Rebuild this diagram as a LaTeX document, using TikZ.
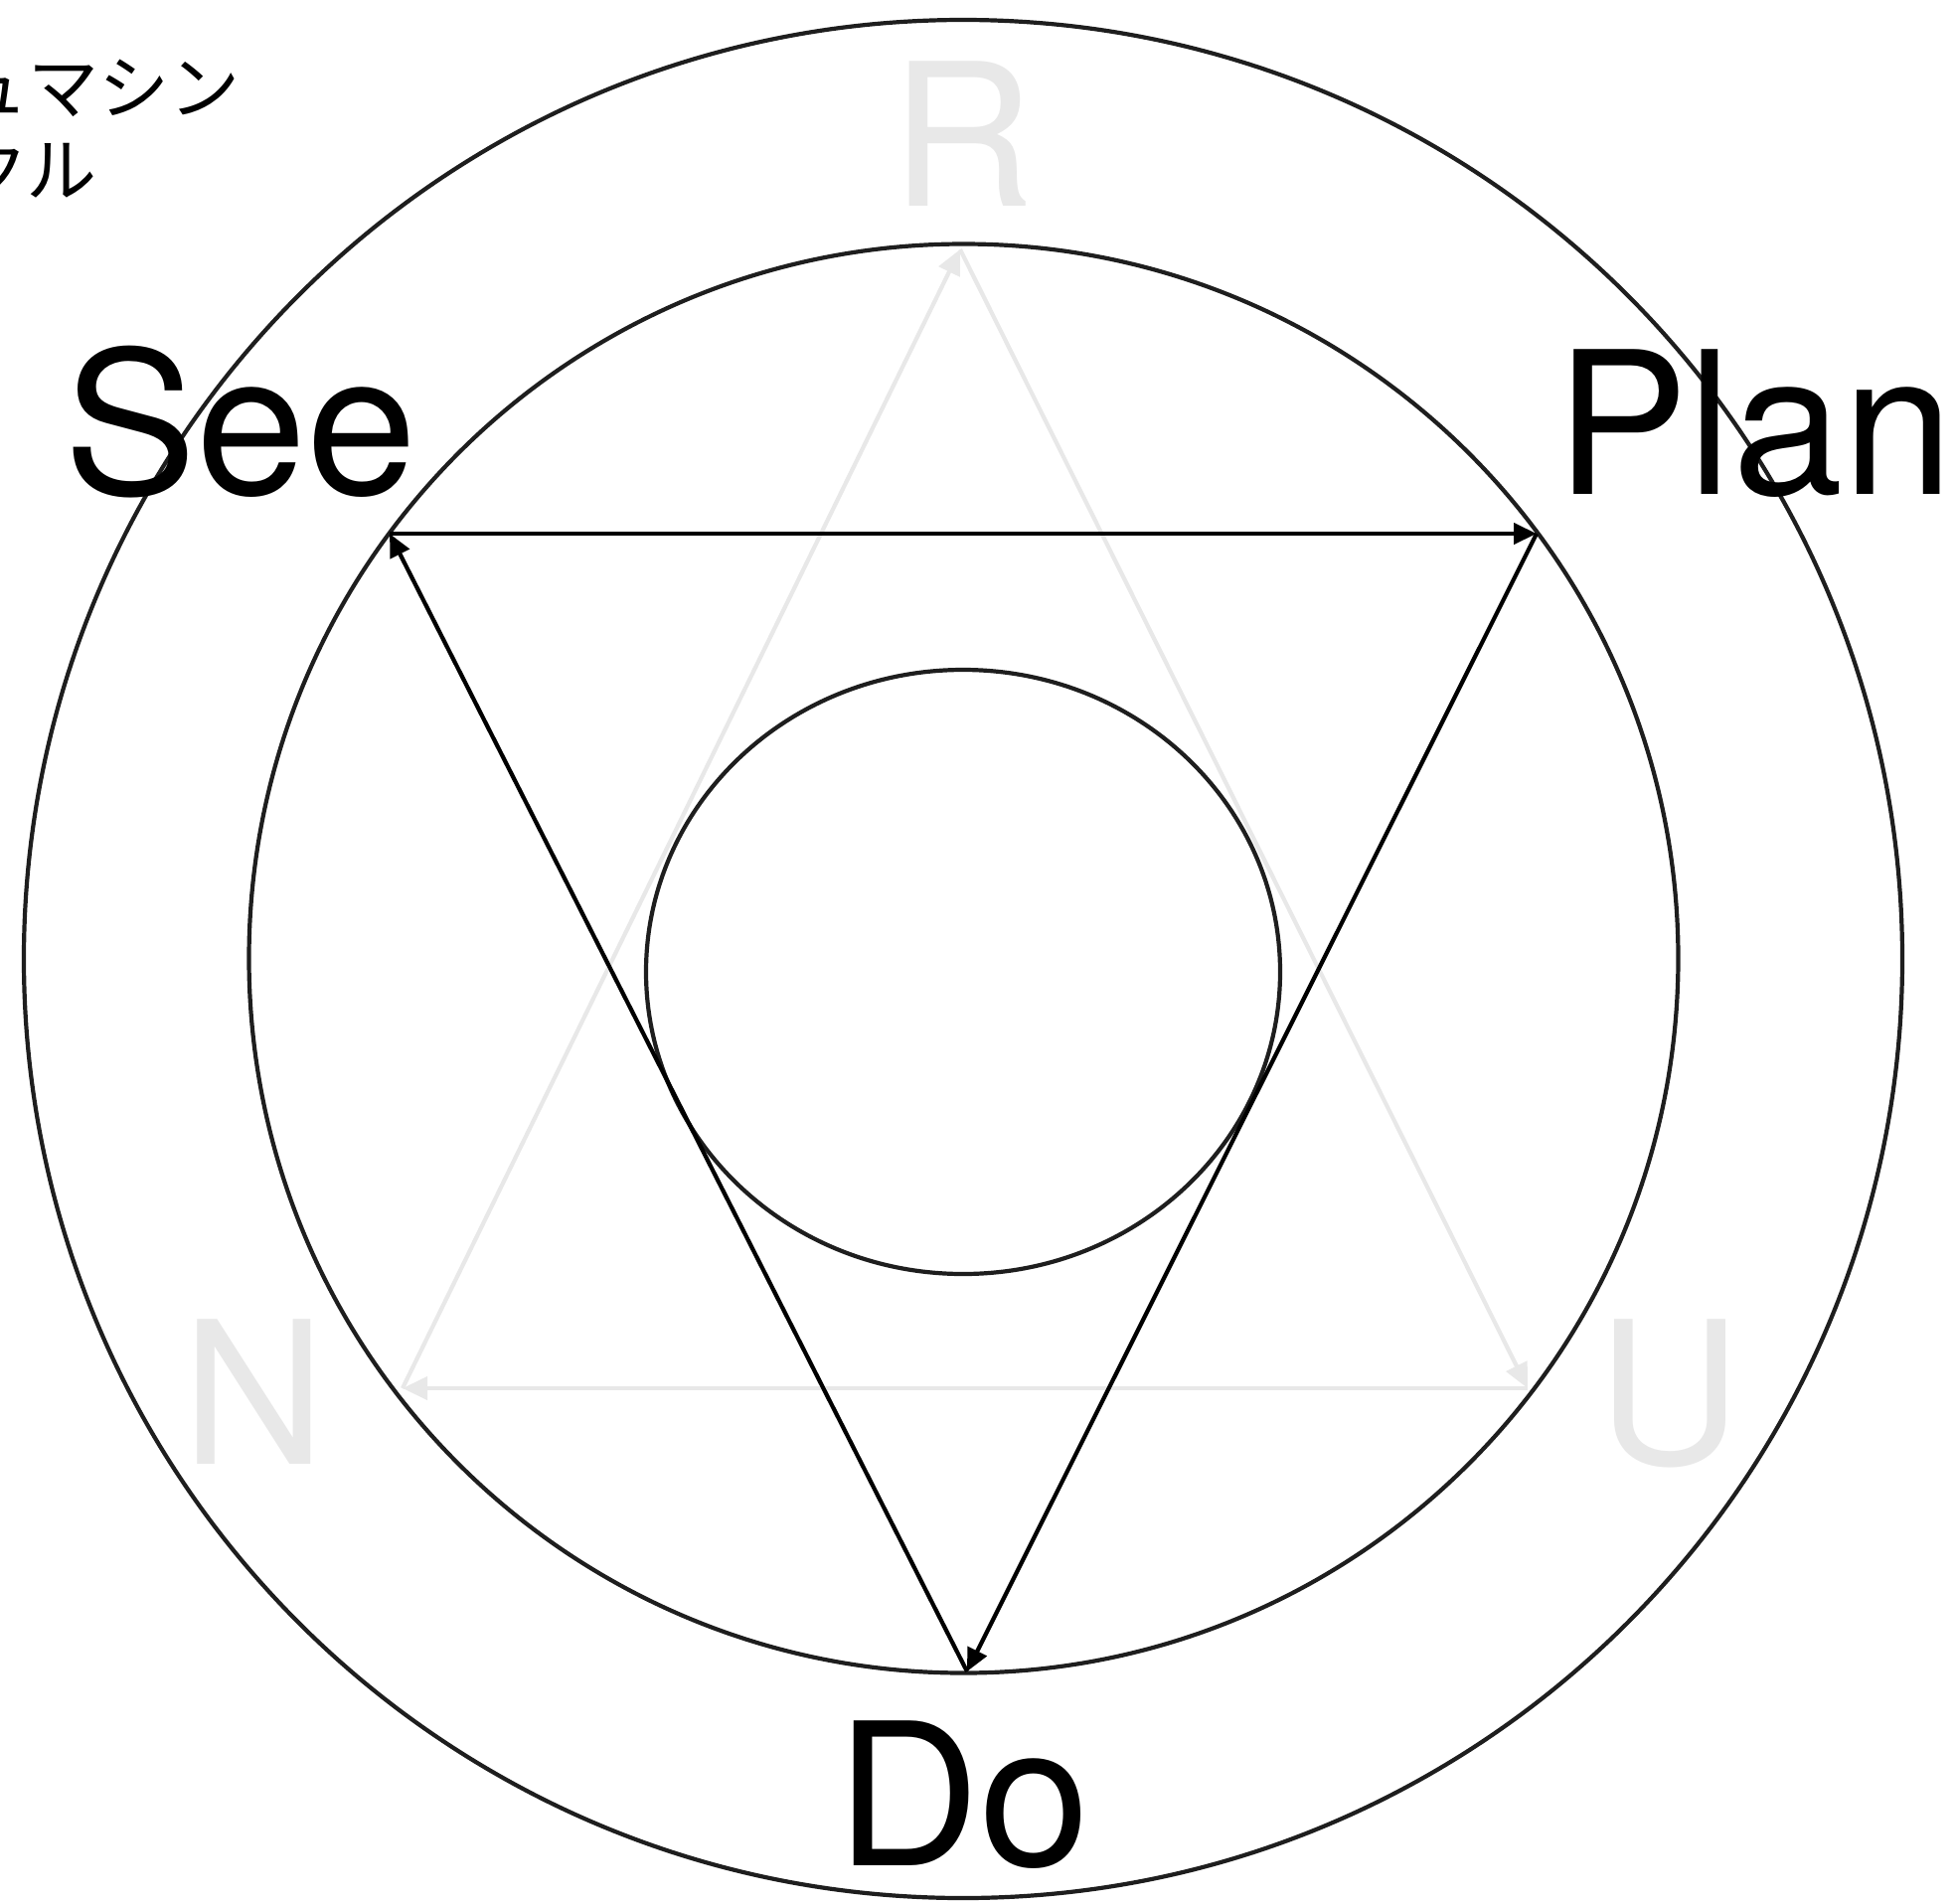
\documentclass[tikz,border=0pt]{standalone}
\usepackage{fontspec}
\setmainfont{TeX Gyre Heros}
\newfontfamily\jpfont{Noto Sans CJK JP}
\usetikzlibrary{arrows.meta}
\definecolor{ringcol}{HTML}{1E1E1E}
\definecolor{faint}{HTML}{E8E8E8}

\begin{document}
\begin{tikzpicture}[
    x=1pt, y=-1pt,
    ring/.style={draw=ringcol, line width=4.2pt},
    link/.style={-{Triangle[length=23pt, width=21pt]}, line width=4.2pt, draw=black},
    ghost/.style={-{Triangle[length=25pt, width=23pt]}, line width=4.2pt, draw=faint},
    big/.style={font=\fontsize{200}{200}\selectfont, inner sep=0pt, anchor=base west},
    jp/.style={font=\jpfont\fontsize{71}{83}\selectfont, inner sep=0pt, anchor=base west},
  ]
  \useasboundingbox (0,0) rectangle (1968,1915);

  % corners of the two triangles
  \coordinate (see)  at (392,537);
  \coordinate (plan) at (1546,537);
  \coordinate (do)   at (973,1682);
  \coordinate (r)    at (966,251);
  \coordinate (n)    at (405,1397);
  \coordinate (u)    at (1537,1397);

  % faint triangle
  \draw[ghost] (r) -- (u);
  \draw[ghost] (u) -- (n);
  \draw[ghost] (n) -- (r);

  % rings
  \draw[ring] (969,965) circle[radius=945];
  \draw[ring] (969.5,964.5) circle[radius=719];
  \draw[ring] (969,978) ellipse[x radius=319, y radius=304];

  % main cycle
  \draw[link] (see) -- (plan);
  \draw[link] (plan) -- (do);
  \draw[link] (do) -- (see);

  \node[big] (seelbl)  at (64,497)   {See};
  \node[big] (planlbl) at (1565,497) {Plan};
  \node[big] (dolbl)   at (841,1877) {Do};
  \node[big, text=faint] (rlbl) at (896,207)   {R};
  \node[big, text=faint] (nlbl) at (183,1473)  {N};
  \node[big, text=faint] (ulbl) at (1607,1473) {U};

  \node[jp] (title1) at (-43,114) {ュマシン};
  \node[jp] (title2) at (-43,197) {クル};
\end{tikzpicture}
\end{document}
